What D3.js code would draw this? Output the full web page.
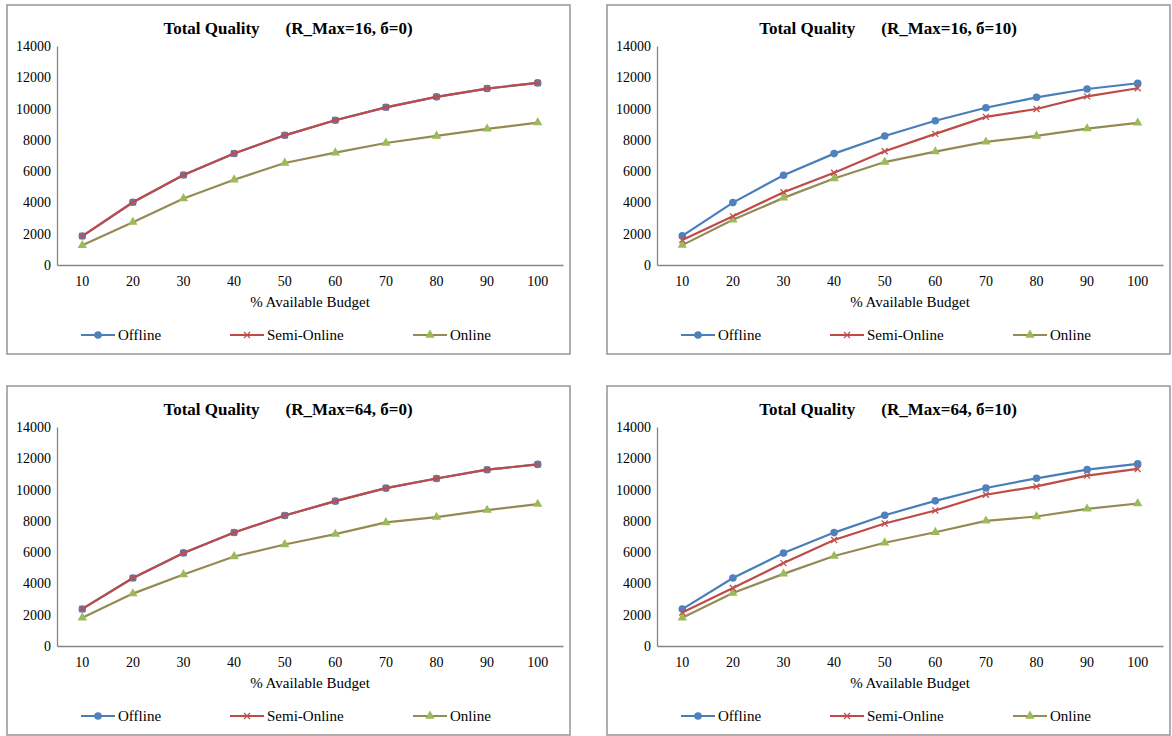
<!DOCTYPE html>
<html>
<head>
<meta charset="utf-8">
<script src="https://cdn.jsdelivr.net/npm/d3@7"></script>
<style>
  body { margin: 0; background: #fff; }
  svg text { font-family: 'Liberation Serif', 'Times New Roman', serif; fill: #000; }
</style>
</head>
<body>
<svg id="chart" width="1172" height="736"></svg>
<script>
// x categories (% available budget)
const budgets = [10, 20, 30, 40, 50, 60, 70, 80, 90, 100];
const yTicks = [0, 2000, 4000, 6000, 8000, 10000, 12000, 14000];
const seriesNames = ['Offline', 'Semi-Online', 'Online'];

// R_Max=16, б=0
const offline16s0 = [1850, 4010, 5750, 7130, 8290, 9250, 10080, 10750, 11280, 11640];
const semi16s0 = [1850, 4010, 5750, 7130, 8290, 9250, 10080, 10750, 11280, 11640];
const online16s0 = [1260, 2740, 4250, 5450, 6520, 7180, 7800, 8250, 8700, 9100];

// R_Max=16, б=10
const offline16s10 = [1860, 3990, 5740, 7120, 8250, 9220, 10050, 10720, 11250, 11620];
const semi16s10 = [1600, 3110, 4650, 5900, 7270, 8380, 9470, 9970, 10780, 11300];
const online16s10 = [1270, 2890, 4290, 5530, 6580, 7250, 7870, 8250, 8720, 9090];

// R_Max=64, б=0
const offline64s0 = [2370, 4350, 5950, 7260, 8340, 9260, 10090, 10710, 11270, 11610];
const semi64s0 = [2370, 4350, 5950, 7260, 8340, 9260, 10090, 10710, 11270, 11610];
const online64s0 = [1810, 3350, 4570, 5720, 6490, 7150, 7900, 8240, 8690, 9070];

// R_Max=64, б=10
const offline64s10 = [2360, 4350, 5940, 7250, 8360, 9280, 10100, 10720, 11280, 11640];
const semi64s10 = [2140, 3710, 5300, 6780, 7830, 8660, 9670, 10200, 10890, 11320];
const online64s10 = [1800, 3390, 4610, 5750, 6600, 7270, 8000, 8280, 8770, 9110];

const panels = [
  { title: '(R_Max=16, б=0)', x: 7, y: 5, values: [offline16s0, semi16s0, online16s0] },
  { title: '(R_Max=16, б=10)', x: 607, y: 5, values: [offline16s10, semi16s10, online16s10] },
  { title: '(R_Max=64, б=0)', x: 7, y: 386, values: [offline64s0, semi64s0, online64s0] },
  { title: '(R_Max=64, б=10)', x: 607, y: 386, values: [offline64s10, semi64s10, online64s10] }
];

const lineColors = ['#4a7ebb', '#be4b48', '#948a54'];
const markerColors = ['#4f81bd', '#c0504d', '#9bbb59'];
const FONT = "'Liberation Serif', 'Times New Roman', serif";

const PANEL_W = 563;
const PANEL_H = 349;
const plotLeft = 50;
const plotRight = 556;
const plotTop = 41;
const plotBottom = 260;

const svg = d3.select('#chart').attr('font-family', FONT);

function drawMarker($g, type, color) {
  if (type === 0) {
    $g.append('circle').attr('r', 3.8).attr('fill', color);
  } else if (type === 1) {
    $g.append('path')
      .attr('d', 'M-3,-3L3,3M-3,3L3,-3')
      .attr('stroke', color)
      .attr('stroke-width', 1.3)
      .attr('fill', 'none');
  } else {
    $g.append('path')
      .attr('d', d3.symbol().type(d3.symbolTriangle).size(38)())
      .attr('fill', color);
  }
}

panels.forEach(p => {
  const $p = svg.append('g').attr('transform', `translate(${p.x},${p.y})`);

  $p.append('rect')
    .attr('x', 0).attr('y', 0)
    .attr('width', PANEL_W).attr('height', PANEL_H)
    .attr('fill', '#fff')
    .attr('stroke', '#959595')
    .attr('stroke-width', 1.5);

  const scaleX = d3.scaleBand().domain(budgets).range([plotLeft, plotRight]);
  const scaleY = d3.scaleLinear().domain([0, 14000]).range([plotBottom, plotTop]);

  // title
  const $title = $p.append('text')
    .attr('x', 281)
    .attr('y', 29)
    .attr('text-anchor', 'middle')
    .attr('font-family', FONT)
    .style('font-size', '17px')
    .style('font-weight', 'bold');
  $title.append('tspan').text('Total Quality');
  $title.append('tspan').attr('dx', 26).text(p.title);

  // y axis
  const $yAxis = $p.append('g')
    .attr('transform', `translate(${plotLeft},0)`)
    .call(d3.axisLeft(scaleY).tickValues(yTicks).tickSize(0).tickPadding(6).tickFormat(d3.format('d')))
    .attr('font-family', FONT)
    .attr('font-size', 14);
  $yAxis.select('.domain').attr('stroke', '#868686').attr('stroke-width', 1.3);

  // x axis
  const $xAxis = $p.append('g')
    .attr('transform', `translate(0,${plotBottom})`)
    .call(d3.axisBottom(scaleX).tickSize(0).tickPadding(11))
    .attr('font-family', FONT)
    .attr('font-size', 14);
  $xAxis.select('.domain').attr('stroke', '#868686').attr('stroke-width', 1.3);

  $p.append('text')
    .attr('x', 303)
    .attr('y', 302)
    .attr('text-anchor', 'middle')
    .attr('font-family', FONT)
    .style('font-size', '15px')
    .text('% Available Budget');

  // series (draw online first so offline/semi sit on top)
  const order = [2, 0, 1];
  order.forEach(i => {
    const vals = p.values[i];
    const line = d3.line()
      .x((d, j) => scaleX(budgets[j]) + scaleX.bandwidth() / 2)
      .y(d => scaleY(d));
    $p.append('path')
      .datum(vals)
      .attr('d', line)
      .attr('fill', 'none')
      .attr('stroke', lineColors[i])
      .attr('stroke-width', 2.2);
    vals.forEach((v, j) => {
      const $m = $p.append('g')
        .attr('transform', `translate(${scaleX(budgets[j]) + scaleX.bandwidth() / 2},${scaleY(v)})`);
      drawMarker($m, i, markerColors[i]);
    });
  });

  // legend
  const legendX = [74, 223, 406];
  seriesNames.forEach((name, i) => {
    const $l = $p.append('g').attr('transform', `translate(${legendX[i]},330)`);
    $l.append('line')
      .attr('x1', 0).attr('x2', 34)
      .attr('stroke', lineColors[i])
      .attr('stroke-width', 2.2);
    const $m = $l.append('g').attr('transform', 'translate(17,0)');
    drawMarker($m, i, markerColors[i]);
    $l.append('text')
      .attr('x', 37)
      .attr('y', 5)
      .attr('font-family', FONT)
      .style('font-size', '15px')
      .text(name);
  });
});
</script>
</body>
</html>
